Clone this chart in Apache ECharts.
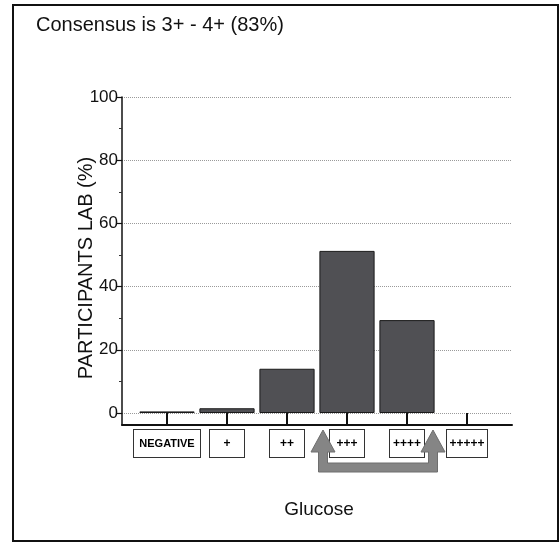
<!DOCTYPE html>
<html>
<head>
<meta charset="utf-8">
<script src="https://cdn.jsdelivr.net/npm/echarts@6/dist/echarts.min.js"></script>
<style>html,body{margin:0;padding:0;background:#fff;}#c{width:560px;height:546px;}</style>
</head>
<body>
<div id="c"></div>
<script>
const titleText = 'Consensus is 3+ - 4+ (83%)';
const categories = ['NEGATIVE', '+', '++', '+++', '++++', '+++++'];
const values = [0.5, 1.5, 14, 51.3, 29.4, 0];
const yMin = 0, yMax = 100, yStep = 20;
const yName = 'PARTICIPANTS LAB (%)';
const xName = 'Glucose';

const FONT = '"Liberation Sans", Arial, sans-serif';
const chart = echarts.init(document.getElementById('c'), null, {renderer: 'canvas'});

const boxStyle = (w) => ({
  width: w, height: 27, lineHeight: 27, align: 'center',
  borderColor: '#333', borderWidth: 1, backgroundColor: '#fff',
  color: '#000', fontFamily: FONT, fontWeight: 'bold'
});

// bars grid extends 12px below the zero line down to the x axis line
const pxPerUnit = 316 / (yMax - yMin);
const barAxisMin = yMin - 12 / pxPerUnit;

chart.setOption({
  animation: false,
  backgroundColor: '#fff',
  title: {
    text: titleText, left: 36, top: 15, padding: 0,
    textStyle: {fontSize: 20, fontWeight: 'normal', color: '#111', fontFamily: FONT}
  },
  grid: [
    {left: 122, top: 97, width: 390, height: 328},   // frame axes
    {left: 122, top: 97, width: 390, height: 316},   // y scale, gridlines
    {left: 137, top: 97, width: 360, height: 328}    // bars
  ],
  xAxis: [
    {gridIndex: 0, type: 'value', min: 0, max: 1,
     axisLine: {show: true, onZero: false, lineStyle: {color: '#111', width: 2}},
     axisTick: {show: false}, axisLabel: {show: false}, splitLine: {show: false}},
    {gridIndex: 1, type: 'value', min: 0, max: 1, show: false},
    {gridIndex: 2, type: 'category', data: categories,
     axisLine: {show: false, onZero: false},
     axisTick: {show: true, inside: true, length: 12, alignWithLabel: true, lineStyle: {color: '#111', width: 2}},
     axisLabel: {
       margin: 5, interval: 0,
       formatter: function (v) {
         if (v === 'NEGATIVE') return '{n|' + v + '}';
         if (v.length >= 5) return '{w|' + v + '}';
         return '{p|' + v + '}';
       },
       rich: {
         n: Object.assign(boxStyle(66), {fontSize: 11}),
         p: Object.assign(boxStyle(34), {fontSize: 12}),
         w: Object.assign(boxStyle(40), {fontSize: 12})
       }
     },
     splitLine: {show: false}}
  ],
  yAxis: [
    {gridIndex: 0, type: 'value', min: 0, max: 1,
     axisLine: {show: true, onZero: false, lineStyle: {color: '#111', width: 1.5}},
     axisTick: {show: false}, axisLabel: {show: false}, splitLine: {show: false}},
    {gridIndex: 1, type: 'value', min: yMin, max: yMax, interval: yStep,
     axisLine: {show: false, onZero: false},
     axisTick: {show: true, length: 5, lineStyle: {color: '#111', width: 1.2}},
     minorTick: {show: true, splitNumber: 2, length: 3, lineStyle: {color: '#333'}},
     axisLabel: {margin: 4, fontSize: 17, color: '#111', fontFamily: FONT},
     splitLine: {show: true, lineStyle: {color: '#9a9a9a', type: 'dotted', width: 1}}},
    {gridIndex: 2, type: 'value', min: barAxisMin, max: yMax, show: false}
  ],
  series: [{
    type: 'bar', xAxisIndex: 2, yAxisIndex: 2,
    data: values.map(v => v === 0 ? {value: v, itemStyle: {borderWidth: 0, color: 'rgba(0,0,0,0)'}} : v),
    barCategoryGap: '8%',
    itemStyle: {color: '#505054', borderColor: '#1a1a1a', borderWidth: 1}
  }],
  graphic: [
    {type: 'rect', shape: {x: 13, y: 5, width: 545, height: 536},
     style: {fill: 'none', stroke: '#111', lineWidth: 2}, z: 0},
    {type: 'text', x: 86, y: 268, rotation: Math.PI / 2,
     style: {text: yName, fontSize: 20, fontFamily: FONT, fill: '#111', align: 'center', verticalAlign: 'middle'}},
    {type: 'text', x: 319, y: 510,
     style: {text: xName, fontSize: 19, fontFamily: FONT, fill: '#111', align: 'center', verticalAlign: 'middle'}},
    {type: 'polygon', z: 100,
     shape: {points: [[323,430],[335,452],[327.5,452],[327.5,463],[428.5,463],[428.5,452],[421,452],[433,430],[445,452],[437.5,452],[437.5,472],[318.5,472],[318.5,452],[311,452]]},
     style: {fill: '#858585', stroke: '#6e6e6e', lineWidth: 1}}
  ]
});
</script>
</body>
</html>
